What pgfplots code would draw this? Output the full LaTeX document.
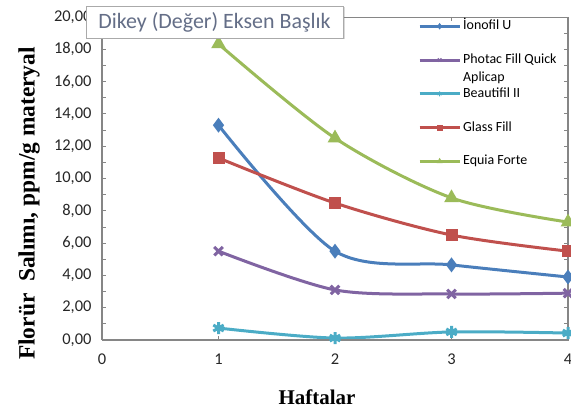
\documentclass[border=0pt]{standalone}
\usepackage{fontspec}
\setmainfont{Carlito}
\newfontfamily\tnr{Liberation Serif}
\usepackage{pgfplots}
\pgfplotsset{compat=1.18}
\usetikzlibrary{shadows}

\definecolor{cBlue}{RGB}{74,126,187}
\definecolor{cPurple}{RGB}{128,100,162}
\definecolor{cCyan}{RGB}{75,172,198}
\definecolor{cRed}{RGB}{192,80,77}
\definecolor{cGreen}{RGB}{155,187,89}
\definecolor{axgray}{RGB}{134,134,134}
\definecolor{titlegray}{RGB}{100,110,135}

\begin{document}
\begin{tikzpicture}
\path[use as bounding box] (0,0) rectangle (571bp,415bp);
\begin{axis}[
  at={(102bp,75bp)}, anchor=south west,
  scale only axis, width=466bp, height=323bp,
  xmin=0, xmax=4, ymin=0, ymax=20,
  xtick={0,1,2,3,4},
  ytick={0,2,...,20},
  minor ytick={1,3,...,19},
  tick align=inside,
  major tick length=4bp, minor tick length=4bp,
  tick style={axgray, line width=0.8bp},
  axis line style={axgray, line width=0.8bp},
  /pgf/number format/assume math mode=true,
  ticklabel style={font=\fontsize{16.5}{18}\selectfont, text=black!85},
  yticklabel style={/pgf/number format/.cd, fixed, fixed zerofill, precision=2, use comma},
  yticklabel shift=7bp,
  xticklabel shift=10bp,
  clip=false,
  legend cell align=left,
  legend style={draw=none, fill=none, inner sep=0pt,
    at={(0.678,0.992)}, anchor=north west,
    font=\fontsize{14}{15}\selectfont,
    nodes={inner sep=0pt, text height=10bp, text depth=3bp},
    row sep=20.75bp, column sep=2bp},
  legend image code/.code={%
    \draw[#1, line width=3bp, mark=none] (0bp,0bp) -- (40bp,0bp);
    \draw[#1, mark size=2.5bp, line width=1pt] plot coordinates {(20bp,0bp)};},
  every axis plot/.append style={line width=3bp, smooth, tension=0.5},
]
\addplot[cBlue, mark=diamond*, mark size=5bp] coordinates {(1,13.3) (2,5.5) (3,4.65) (4,3.9)};
\addlegendentry{İonofil U}
\addplot[cPurple, mark=x, mark size=6bp] coordinates {(1,5.5) (2,3.1) (3,2.85) (4,2.9)};
\addlegendentry{\smash{\begin{tabular}[t]{@{}l@{}}Photac Fill Quick\\[3bp]Aplicap\end{tabular}}}
\addplot[cCyan, mark=asterisk, mark size=6bp] coordinates {(1,0.74) (2,0.12) (3,0.5) (4,0.43)};
\addlegendentry{Beautifil II}
\addplot[cRed, mark=square*, mark size=4.5bp] coordinates {(1,11.27) (2,8.48) (3,6.5) (4,5.5)};
\addlegendentry{Glass Fill}
\addplot[cGreen, mark=triangle*, mark size=5.5bp] coordinates {(1,18.33) (2,12.5) (3,8.8) (4,7.3)};
\addlegendentry{Equia Forte}
\draw[axgray, line width=1.8bp] (rel axis cs:0,0) -- (rel axis cs:0,1);
\draw[axgray, line width=1.8bp] (rel axis cs:0,0) -- (rel axis cs:1,0);
\draw[axgray, line width=1.5bp] (rel axis cs:1,0) -- (rel axis cs:1,1);
\end{axis}
\node[font=\tnr\bfseries\fontsize{23.5}{25}\selectfont, rotate=90] at (29bp,211.5bp) {Florür\ \ Salımı, ppm/g materyal};
\node[font=\tnr\bfseries\fontsize{21}{23}\selectfont] at (317bp,18bp) {Haftalar};
\node[draw=axgray!70, fill=white, line width=0.8bp, drop shadow={opacity=0.3, shadow xshift=1.5bp, shadow yshift=-1.5bp},
  minimum width=257bp, minimum height=32bp, inner sep=0pt, text=titlegray,
  font=\fontsize{22}{24}\selectfont] at (214.5bp,393bp) {Dikey (Değer) Eksen Başlık};
\end{tikzpicture}
\end{document}
